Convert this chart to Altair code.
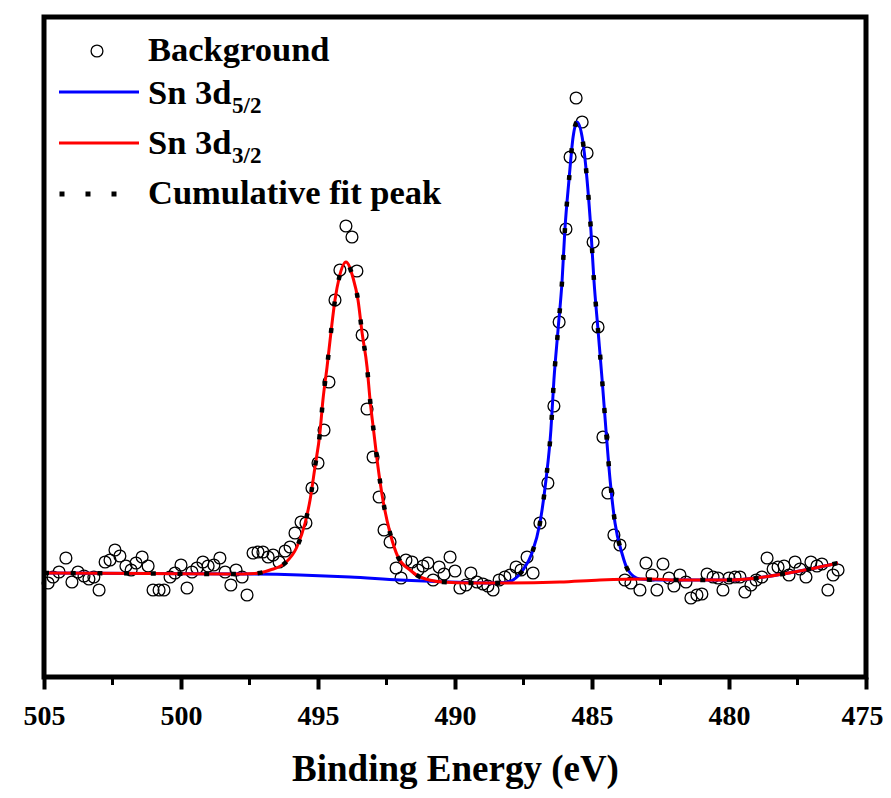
import altair as alt
import pandas as pd

FONT = "Liberation Serif"

# ---- measured spectrum (binding energy in eV, intensity in a.u.) ----
be_data = [504.85, 504.67, 504.45, 504.20, 503.98, 503.76, 503.54, 503.36, 503.18, 502.99,
           502.77, 502.59, 502.41, 502.23, 502.01, 501.82, 501.64, 501.42, 501.20, 501.02,
           500.80, 500.62, 500.40, 500.22, 500.00, 499.78, 499.60, 499.42, 499.20, 499.01,
           498.80, 498.58, 498.39, 498.18, 497.99, 497.77, 497.59, 497.37, 497.19, 497.01,
           496.82, 496.64, 496.42, 496.20, 496.02, 495.84, 495.62, 495.44, 495.22, 495.00,
           494.78, 494.60, 494.38, 494.20, 493.98, 493.76, 493.58, 493.39, 493.21, 492.99,
           492.77, 492.59, 492.37, 492.15, 491.97, 491.79, 491.57, 491.35, 491.17, 490.99,
           490.80, 490.58, 490.40, 490.18, 490.00, 489.82, 489.60, 489.42, 489.20, 488.98,
           488.80, 488.61, 488.39, 488.18, 487.99, 487.77, 487.59, 487.37, 487.15, 486.90,
           486.61, 486.39, 486.20, 485.95, 485.80, 485.58, 485.36, 485.18, 484.96, 484.78,
           484.60, 484.42, 484.20, 483.98, 483.80, 483.58, 483.25, 483.03, 482.81, 482.63,
           482.41, 482.19, 482.01, 481.79, 481.57, 481.39, 481.17, 480.99, 480.80, 480.58,
           480.40, 480.22, 480.00, 479.78, 479.60, 479.42, 479.20, 479.01, 478.80, 478.61,
           478.39, 478.21, 477.99, 477.81, 477.59, 477.41, 477.19, 477.01, 476.79, 476.61,
           476.39, 476.20, 476.02]
int_data = [95, 101, 106, 120, 96, 106, 102, 99, 101, 88,
            116, 118, 128, 122, 112, 108, 115, 121, 112, 88,
            88, 88, 101, 105, 113, 90, 106, 110, 116, 112,
            113, 120, 106, 93, 108, 101, 83, 125, 126, 126,
            121, 123, 116, 127, 131, 145, 156, 155, 190, 215,
            248, 296, 378, 408, 452, 441, 407, 343, 269, 221,
            181, 148, 136, 110, 100, 118, 116, 108, 112, 115,
            98, 111, 104, 121, 107, 90, 93, 105, 96, 94,
            92, 88, 98, 101, 103, 111, 108, 121, 105, 155,
            195, 272, 356, 449, 521, 580, 556, 525, 436, 351,
            241, 185, 143, 133, 98, 95, 88, 115, 103, 88,
            114, 100, 92, 103, 96, 80, 83, 84, 104, 101,
            100, 88, 100, 101, 101, 86, 93, 98, 101, 120,
            109, 111, 112, 103, 116, 109, 101, 116, 112, 114,
            88, 103, 108]

# ---- Sn 3d5/2 fitted component (with background) ----
be_blue = [505.00, 501.13, 497.48, 495.66, 493.83, 492.01, 490.18, 488.72, 488.18, 487.88,
           487.52, 487.19, 486.90, 486.68, 486.50, 486.39, 486.24, 486.09, 485.99, 485.84,
           485.69, 485.55, 485.36, 485.18, 485.04, 484.93, 484.78, 484.63, 484.49, 484.34,
           484.16, 483.91, 483.69, 483.25, 482.52, 481.06, 479.96, 478.98, 478.03, 477.04,
           476.02]
int_blue = [105, 104.5, 104, 103, 101, 98, 96, 95, 95.5, 98,
            108, 125, 155, 198, 248, 298, 348, 398, 448, 498,
            541, 556, 541, 498, 448, 398, 348, 298, 248, 198,
            155, 125, 108, 99, 98, 98, 98, 100, 104, 109,
            115]

# ---- Sn 3d3/2 fitted component (with background) ----
be_red = [505.00, 501.13, 498.21, 497.30, 496.75, 496.20, 495.77, 495.47, 495.29, 495.11,
          494.93, 494.82, 494.67, 494.53, 494.38, 494.23, 493.98, 493.72, 493.54, 493.39,
          493.21, 493.10, 492.96, 492.81, 492.63, 492.37, 492.08, 491.64, 491.28, 490.44,
          489.45, 488.36, 486.17, 484.71, 482.88, 481.90, 480.95, 479.96, 478.98, 478.03,
          477.04, 476.02]
int_red = [105, 104.5, 104, 104.5, 108, 115, 131, 155, 178, 211,
           245, 278, 311, 345, 378, 400, 416, 400, 378, 345,
           311, 278, 245, 211, 178, 145, 121, 108, 101, 96,
           95, 95, 96, 98, 99, 98, 98, 98, 100, 104,
           109, 115]

# ---- cumulative fit ----
be_cum = be_red[:30] + [489.45, 488.72, 488.18] + be_blue[9:]
int_cum = int_red[:30] + [95, 95, 95.5] + int_blue[9:]

major_ticks = [505, 500, 495, 490, 485, 480, 475]
minor_ticks = [502.5, 497.5, 492.5, 487.5, 482.5, 477.5]

legend_labels = ["Background", "Sn 3d", "Sn 3d", "Cumulative fit peak"]
legend_subs = ["5/2", "3/2"]

df_data = pd.DataFrame({"be": be_data, "inten": int_data})
df_blue = pd.DataFrame({"be": be_blue, "inten": int_blue})
df_red = pd.DataFrame({"be": be_red, "inten": int_red})
df_cum = pd.DataFrame({"be": be_cum, "inten": int_cum})
df_minor = pd.DataFrame({"be": minor_ticks})

x_scale = alt.Scale(domain=[475, 505], reverse=True, nice=False, zero=False)
y_scale = alt.Scale(domain=[1, 661], nice=False, zero=False)
x_axis = alt.Axis(values=major_ticks, format="d", grid=False, domain=False,
                  tickSize=12, tickWidth=4, tickColor="black",
                  labelPadding=13, labelFlush=False, labelOverlap=False,
                  labelOffset={"condition": {"test": "datum.value == 475", "value": -4}, "value": 0},
                  labelFont=FONT, labelFontSize=28, labelFontWeight="bold", labelColor="black",
                  titleFont=FONT, titleFontSize=37, titleFontWeight="bold", titleColor="black",
                  titlePadding=21)


def xenc():
    return alt.X("be:Q", scale=x_scale, axis=x_axis, title="Binding Energy (eV)")


def yenc():
    return alt.Y("inten:Q", scale=y_scale, axis=None)


points = alt.Chart(df_data).mark_point(
    shape="circle", filled=False, size=140, strokeWidth=1.3, color="black", opacity=1
).encode(x=xenc(), y=yenc())

blue = alt.Chart(df_blue).mark_line(color="#0000FF", strokeWidth=3, interpolate="monotone").encode(
    x=xenc(), y=yenc())
red = alt.Chart(df_red).mark_line(color="#FF0000", strokeWidth=3, interpolate="monotone").encode(
    x=xenc(), y=yenc())
cum = alt.Chart(df_cum).mark_line(color="black", strokeWidth=4.5, strokeDash=[5, 21.7],
                                  strokeCap="butt", interpolate="monotone").encode(
    x=xenc(), y=yenc())

minor = alt.Chart(df_minor).mark_rule(color="black", strokeWidth=3).encode(
    x=xenc(), y=alt.value(660), y2=alt.value(668))

# ---- hand-built legend ----
def ltext(label, x, y, size):
    return alt.Chart(pd.DataFrame({"t": [label]})).mark_text(
        align="left", baseline="alphabetic", font=FONT, fontSize=size, fontWeight="bold", color="black"
    ).encode(x=alt.value(x), y=alt.value(y), text="t:N")

one = pd.DataFrame({"k": [0]})
leg_circle = alt.Chart(one).mark_point(shape="circle", filled=False, size=140, strokeWidth=1.3,
                                       color="black", opacity=1).encode(x=alt.value(53), y=alt.value(34))
leg_blue = alt.Chart(one).mark_rule(color="#0000FF", strokeWidth=3).encode(
    x=alt.value(15), x2=alt.value(95), y=alt.value(75))
leg_red = alt.Chart(one).mark_rule(color="#FF0000", strokeWidth=3).encode(
    x=alt.value(15), x2=alt.value(95), y=alt.value(126))
leg_dots = alt.Chart(one).mark_rule(color="black", strokeWidth=5, strokeDash=[5, 21], strokeCap="butt").encode(
    x=alt.value(15.5), x2=alt.value(75), y=alt.value(177))

legend_layers = [
    leg_circle, leg_blue, leg_red, leg_dots,
    ltext(legend_labels[0], 104, 44, 34.5),
    ltext(legend_labels[1], 104, 87, 34.5),
    ltext(legend_subs[0], 188, 96, 23),
    ltext(legend_labels[2], 104, 137, 34.5),
    ltext(legend_subs[1], 188, 146, 23),
    ltext(legend_labels[3], 104, 187, 34.5),
]

chart = alt.layer(points, blue, red, cum, minor, *legend_layers).properties(
    width=822, height=660,
    padding={"left": 36, "top": 9, "right": 17, "bottom": 113},
    autosize=alt.AutoSizeParams(type="none"),
    background="white",
).configure_view(stroke="black", strokeWidth=5)

chart.save("out.html", embed_options={"renderer": "svg", "actions": False})
